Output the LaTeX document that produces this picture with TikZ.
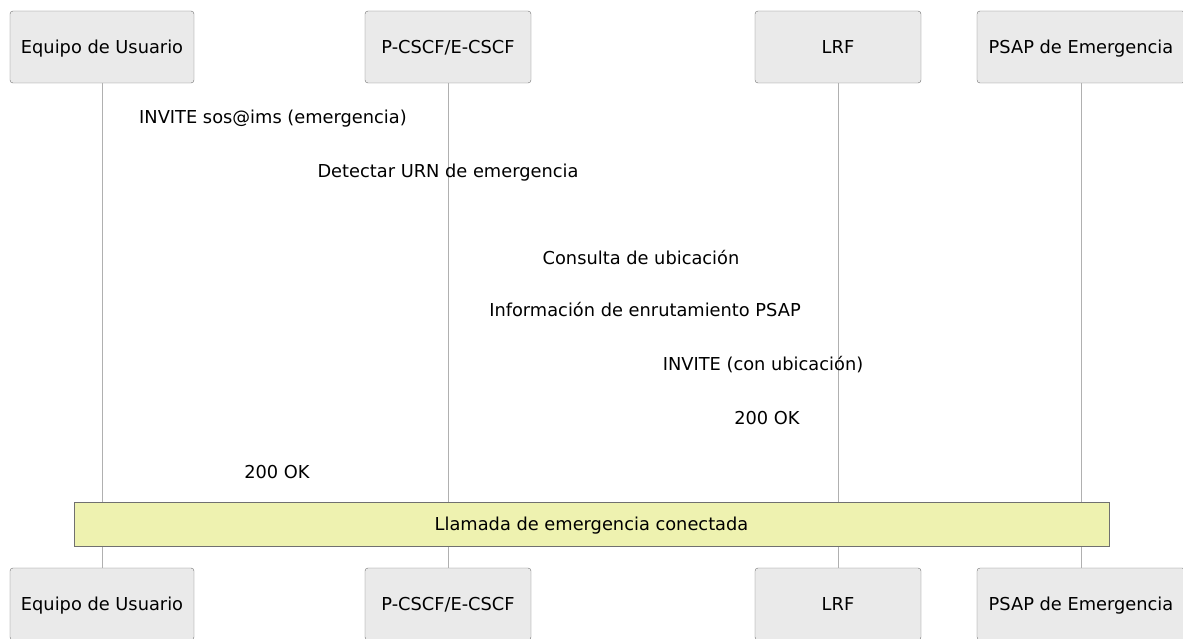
\documentclass[tikz,border=0pt]{standalone}
\usepackage{fontspec}
\setmainfont{DejaVu Sans}
\usetikzlibrary{positioning}
\definecolor{actorfill}{HTML}{EAEAEA}
\definecolor{actorline}{HTML}{707070}
\definecolor{notefill}{HTML}{EEF2B0}
\definecolor{lifeline}{HTML}{B0B0B0}

\begin{document}
\begin{tikzpicture}[x=1pt,y=-1pt]
\tikzstyle{every node}+=[font=\fontsize{17.8}{21}\selectfont,text height=13pt,text depth=0pt]
\tikzstyle{actor}=[draw=actorline,fill=actorfill,rounded corners=3pt,minimum height=72pt,inner sep=0pt]
\tikzstyle{msg}=[inner sep=0pt]
\useasboundingbox (0,0) rectangle (1183,639);
% participants, top row
\node [actor,minimum width=184pt] (ue) at (102,47) {Equipo de Usuario};
\node [actor,minimum width=166pt] (cscf) at (448,47) {P-CSCF/E-CSCF};
\node [actor,minimum width=166pt] (lrf) at (838,47) {LRF};
\node [actor,minimum width=208pt] (psap) at (1081,47) {PSAP de Emergencia};
% participants, bottom row
\node [actor,minimum width=184pt] (ueb) at (102,604) {Equipo de Usuario};
\node [actor,minimum width=166pt] (cscfb) at (448,604) {P-CSCF/E-CSCF};
\node [actor,minimum width=166pt] (lrfb) at (838,604) {LRF};
\node [actor,minimum width=208pt] (psapb) at (1081,604) {PSAP de Emergencia};
% lifelines
\draw [lifeline] (ue.south) -- (ueb.north);
\draw [lifeline] (cscf.south) -- (cscfb.north);
\draw [lifeline] (lrf.south) -- (lrfb.north);
\draw [lifeline] (psap.south) -- (psapb.north);
% messages
\node [msg] (m1) at (273,117) {INVITE sos@ims (emergencia)};
\node [msg] (m2) at (448,171) {Detectar URN de emergencia};
\node [msg] (m3) at (641,258) {Consulta de ubicación};
\node [msg] (m4) at (645,310) {Información de enrutamiento PSAP};
\node [msg] (m5) at (763,364) {INVITE (con ubicación)};
\node [msg] (m6) at (767,418) {200 OK};
\node [msg] (m7) at (277,472) {200 OK};
% note
\node [draw=actorline,fill=notefill,minimum width=1035pt,minimum height=44pt,inner sep=0pt] (call) at (591.5,524) {Llamada de emergencia conectada};
\end{tikzpicture}
\end{document}
